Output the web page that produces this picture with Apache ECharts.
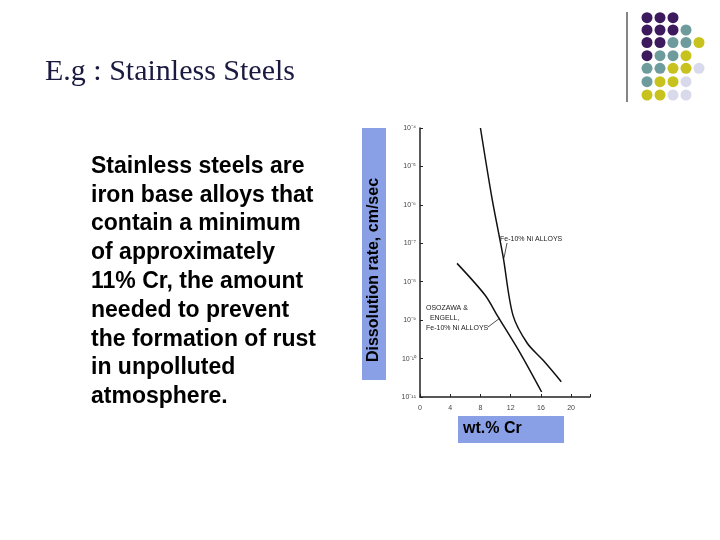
<!DOCTYPE html><html><head><meta charset="utf-8"><script src="https://cdn.jsdelivr.net/npm/echarts@6/dist/echarts.min.js"></script></head><body style="margin:0;background:#fff"><div id="c" style="width:720px;height:540px"></div><script>
var crX=[8,9.5,11,12.3,14.2,16.3,18.7];
var crY=[1e-4,1.6e-6,4.5e-8,1.35e-9,2.5e-10,9e-11,2.5e-11];
var osX=[4.9,8.6,10.3,13.3,16.1];
var osY=[3e-8,4.5e-9,1.25e-9,1.35e-10,1.35e-11];
var xTicks=[0,4,8,12,16,20];
var bodyLines=['Stainless steels are','iron base alloys that','contain a minimum','of approximately','11% Cr, the amount','needed to prevent','the formation of rust','in unpolluted','atmosphere.'];
var dotRows=['PPP','PPPT','PPTTY','PTTY','TTYYL','TYYL','YYLL'];
var col={P:'#3d1a5e',T:'#6e9b9b',Y:'#c8c21e',L:'#d9d9ec'};
var g=[];
bodyLines.forEach(function(t,i){g.push({type:'text',left:91,top:155+i*28.8,style:{text:t,font:'bold 23px Liberation Sans, Arial',fill:'#000'}});});
g.push({type:'text',left:45,top:57,style:{text:'E.g : Stainless Steels',font:'30px Liberation Serif, serif',fill:'#1a1a40'}});
g.push({type:'line',shape:{x1:627,y1:12,x2:627,y2:102},style:{stroke:'#333',lineWidth:1.2}});
var rowY=[17.7,30,42.5,55.7,68.3,81.7,95];
dotRows.forEach(function(r,i){for(var j=0;j<r.length;j++)g.push({type:'circle',shape:{cx:647+j*13,cy:rowY[i],r:5.5},style:{fill:col[r[j]]}});});
g.push({type:'rect',shape:{x:362,y:128,width:24,height:252},style:{fill:'#8aa0e6'}});
g.push({type:'text',x:374,y:270,rotation:Math.PI/2,style:{text:'Dissolution rate, cm/sec',font:'bold 16px Liberation Sans, Arial',fill:'#000',align:'center',verticalAlign:'middle'}});
g.push({type:'rect',shape:{x:458,y:416,width:106,height:27},style:{fill:'#8aa0e6'}});
g.push({type:'text',left:463,top:421,style:{text:'wt.% Cr',font:'bold 16px Liberation Sans, Arial',fill:'#000'}});
g.push({type:'text',left:500,top:236,style:{text:'Fe-10% Ni ALLOYS',font:'7px Liberation Sans',fill:'#222'}});
g.push({type:'text',left:426,top:303,style:{text:'OSOZAWA &\n  ENGELL,\nFe-10% Ni ALLOYS',font:'7px Liberation Sans',fill:'#222',lineHeight:10}});
g.push({type:'line',shape:{x1:507,y1:243,x2:504,y2:258},style:{stroke:'#222',lineWidth:0.8}});
g.push({type:'line',shape:{x1:488,y1:327,x2:500,y2:318},style:{stroke:'#222',lineWidth:0.8}});
var sup={'-4':'⁻⁴','-5':'⁻⁵','-6':'⁻⁶','-7':'⁻⁷','-8':'⁻⁸','-9':'⁻⁹','-10':'⁻¹⁰','-11':'⁻¹¹'};
echarts.init(document.getElementById('c')).setOption({animation:false,graphic:g,
grid:{left:420,right:130,top:128,bottom:143},
xAxis:{type:'value',min:0,max:22.5,interval:4,axisLine:{lineStyle:{color:'#222',width:1.5}},axisTick:{inside:true,length:3,lineStyle:{color:'#222'}},axisLabel:{fontSize:7,color:'#444',customValues:xTicks,formatter:function(v){return xTicks.indexOf(v)>=0?v:'';}},splitLine:{show:false}},
yAxis:{type:'log',min:1e-11,max:1e-4,logBase:10,axisLine:{show:true,lineStyle:{color:'#222',width:1.5}},axisTick:{inside:true,length:3,lineStyle:{color:'#222'}},axisLabel:{fontSize:7,color:'#444',margin:4,formatter:function(v){var e=Math.round(Math.log10(v));return '10'+(sup[String(e)]||'');}},splitLine:{show:false}},
series:[{type:'line',data:crX.map(function(x,i){return [x,crY[i]];}),smooth:0.3,symbol:'none',lineStyle:{color:'#111',width:1.5}},
{type:'line',data:osX.map(function(x,i){return [x,osY[i]];}),smooth:0.3,symbol:'none',lineStyle:{color:'#111',width:1.5}}]});
</script></body></html>
